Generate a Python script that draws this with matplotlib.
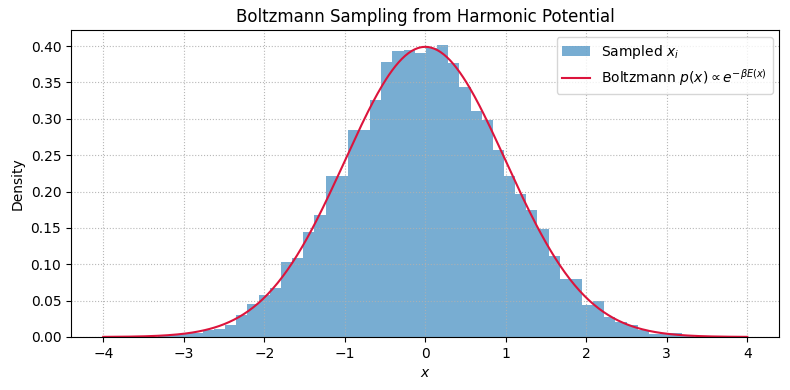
import numpy as np
from matplotlib import pyplot as plt

# histogram of sampled x_i (density)
bin_start = -3.316
bin_width = 0.1385
density = [0.001, 0.004, 0.005, 0.006, 0.010, 0.011, 0.0165, 0.030,
           0.045, 0.058, 0.067, 0.103, 0.109, 0.145, 0.168, 0.221,
           0.221, 0.285, 0.285, 0.326, 0.378, 0.3935, 0.395, 0.391,
           0.397, 0.402, 0.377, 0.344, 0.311, 0.299, 0.257, 0.222,
           0.196, 0.174, 0.149, 0.112, 0.080, 0.080, 0.044, 0.049,
           0.028, 0.020, 0.0165, 0.009, 0.004, 0.005, 0.005, 0.001]

edges = bin_start + bin_width * np.arange(len(density) + 1)
centers = 0.5 * (edges[:-1] + edges[1:])

# analytic Boltzmann density for E(x) = x^2/2, beta = 1
x = np.linspace(-4, 4, 400)
p = np.exp(-0.5 * x**2) / np.sqrt(2 * np.pi)

fig, ax = plt.subplots(figsize=(7.9, 3.9), dpi=100)
ax.hist(centers, bins=edges, weights=density, color='C0', alpha=0.6,
        label='Sampled $x_i$')
ax.plot(x, p, color='crimson', lw=1.5,
        label=r'Boltzmann $p(x) \propto e^{-\beta E(x)}$')
ax.set_title("Boltzmann Sampling from Harmonic Potential")
ax.set_xlabel("$x$")
ax.set_ylabel("Density")
ax.grid(True, linestyle=':', alpha=0.9)
ax.legend(loc='upper right')
fig.subplots_adjust(left=0.0899, right=0.9867, top=0.923, bottom=0.136)
fig.savefig("out.png", dpi=100)
